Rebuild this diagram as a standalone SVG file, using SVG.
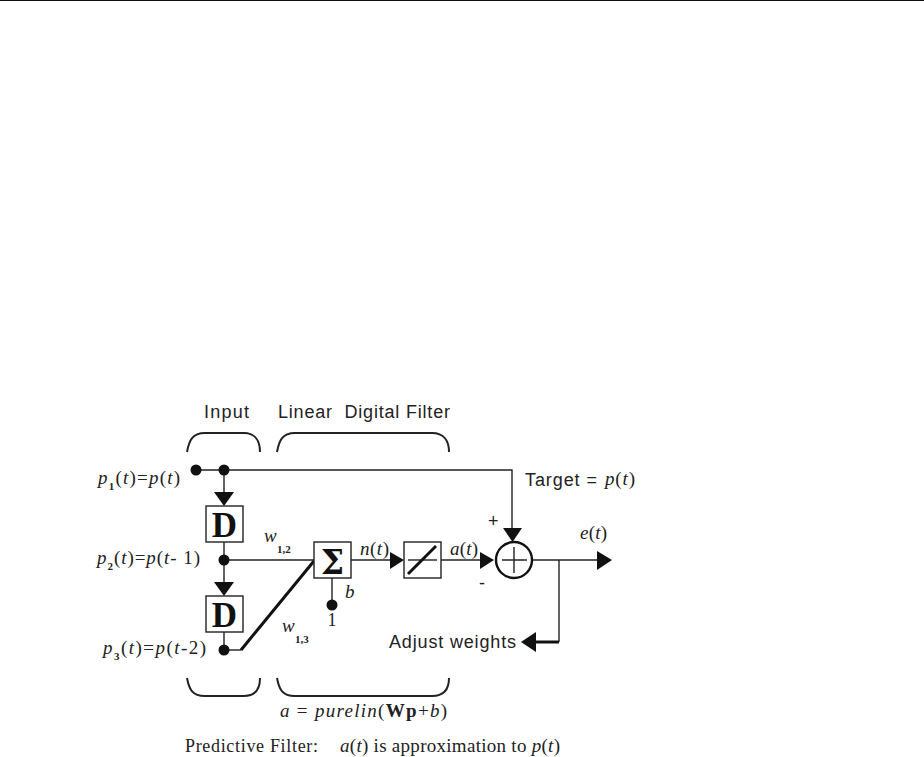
<svg xmlns="http://www.w3.org/2000/svg" width="924" height="757" viewBox="0 0 924 757">
<style>
.l{fill:none;stroke:#222;stroke-width:1.4}
.t{fill:none;stroke:#111;stroke-width:3}
.br{fill:none;stroke:#222;stroke-width:2}
.b{fill:#fff;stroke:#222;stroke-width:1.4}
.a{fill:#111;stroke:none}
.s{font-family:"Liberation Sans",Arial,sans-serif;font-size:18px;fill:#222}
.i{font-family:"Liberation Serif","Times New Roman",serif;font-size:19px;font-style:italic;fill:#222}
.n{font-style:normal}
.r{font-family:"Liberation Serif","Times New Roman",serif;font-size:18px;fill:#222}
.sub{font-family:"Liberation Serif","Times New Roman",serif;font-size:11px;font-style:normal;font-weight:bold;fill:#222}
.big{font-family:"Liberation Serif",serif;font-weight:bold;fill:#111;text-anchor:middle}
</style>
<rect width="924" height="757" fill="#fff"/>
<rect id="top-rule" x="0" y="0" width="924" height="1" fill="#111"/>
<g id="connectors">
<path class="l" d="M196 470H512V530"/>
<path class="l" d="M224 470V494"/>
<path class="l" d="M224 542V584"/>
<path class="l" d="M224 632V650"/>
<path class="l" d="M224 560H314"/>
<path class="l" d="M224 650H241"/>
<path class="t" d="M241 650L314 561"/>
<path class="l" d="M332 578V605"/>
<path class="l" d="M351 560H392"/>
<path class="l" d="M441 560H482"/>
<path class="l" d="M532 560H600"/>
<path class="l" d="M559 560V642"/>
<path class="t" d="M559 642H530"/>
<polygon class="a" points="214,492 234,492 224,506"/>
<polygon class="a" points="214,582 234,582 224,596"/>
<polygon class="a" points="503,528 522,528 512.500,542"/>
<polygon class="a" points="390,552 404,560 390,569"/>
<polygon class="a" points="480,552 494,560 480,569"/>
<polygon class="a" points="597,551 612,560 597,570"/>
<polygon class="a" points="536,632 521,642 536,652"/>
</g>
<g id="dot-p1"><circle class="a" cx="196" cy="470" r="5.500"/></g>
<g id="dot-branch"><circle class="a" cx="224" cy="470" r="5.500"/></g>
<g id="dot-p2"><circle class="a" cx="224" cy="560" r="5.500"/></g>
<g id="dot-p3"><circle class="a" cx="224" cy="650" r="5.500"/></g>
<g id="dot-bias"><circle class="a" cx="332" cy="605" r="5.500"/></g>
<g id="delay-1"><rect class="b" x="206" y="506" width="37" height="36"/><text class="big" x="224.500" y="537" style="font-size:35px">D</text></g>
<g id="delay-2"><rect class="b" x="206" y="596" width="37" height="36"/><text class="big" x="224.500" y="627" style="font-size:35px">D</text></g>
<g id="sum"><rect class="b" x="314" y="542" width="37" height="36"/><text x="332.500" y="574" text-anchor="middle" style="font-family:'DejaVu Serif',serif;font-weight:bold;font-size:33px;fill:#111">Σ</text></g>
<g id="purelin"><rect class="b" x="404" y="542" width="37" height="36"/><path class="l" d="M408 560H437"/><path class="t" d="M408 574L436 546"/></g>
<g id="subtract"><circle cx="514" cy="560" r="18" fill="#fff" stroke="#111" stroke-width="2.400"/><path class="l" d="M514 547V573M502 560H527"/></g>
<g id="braces">
<path class="br" d="M187 452C189 441 192 433 205 433H244C255 433 260 441 260 452"/>
<path class="br" d="M277 452C279 441 282 433 295 433H432C444 433 449 441 449 452"/>
<path class="br" d="M187 678C189 689 192 696 205 696H244C255 696 260 689 260 678"/>
<path class="br" d="M277 678C279 689 282 696 295 696H432C444 696 449 689 449 678"/>
</g>
<g id="labels">
<text class="s" x="204" y="418" textLength="45">Input</text>
<text class="s" x="278" y="418" textLength="172" xml:space="preserve">Linear  Digital Filter</text>
<text class="i" x="98" y="484" textLength="82">p<tspan class="sub" dy="6">1</tspan><tspan class="n" dy="-6">(</tspan>t<tspan class="n">)=</tspan>p<tspan class="n">(</tspan>t<tspan class="n">)</tspan></text>
<text class="i" x="97" y="564" textLength="103">p<tspan class="sub" dy="6">2</tspan><tspan class="n" dy="-6">(</tspan>t<tspan class="n">)=</tspan>p<tspan class="n">(</tspan>t<tspan class="n">- 1)</tspan></text>
<text class="i" x="103" y="654" textLength="103">p<tspan class="sub" dy="6">3</tspan><tspan class="n" dy="-6">(</tspan>t<tspan class="n">)=</tspan>p<tspan class="n">(</tspan>t<tspan class="n">-2)</tspan></text>
<text class="i" x="264" y="542" style="font-size:19px">w</text><text class="sub" x="277" y="553">1,2</text>
<text class="i" x="282" y="632" style="font-size:19px">w</text><text class="sub" x="295" y="643">1,3</text>
<text class="i" x="345" y="598">b</text>
<text class="r" x="332" y="626" text-anchor="middle">1</text>
<text class="i" x="360" y="555" textLength="29">n<tspan class="n">(</tspan>t<tspan class="n">)</tspan></text>
<text class="i" x="450" y="555" textLength="28">a<tspan class="n">(</tspan>t<tspan class="n">)</tspan></text>
<text class="i" x="580" y="539" textLength="27">e<tspan class="n">(</tspan>t<tspan class="n">)</tspan></text>
<text class="s" x="488" y="527">+</text>
<text class="s" x="479" y="589">-</text>
<text class="s" x="525" y="486" textLength="72">Target =</text>
<text class="i" x="605" y="485" textLength="30">p<tspan class="n">(</tspan>t<tspan class="n">)</tspan></text>
<text class="s" x="389" y="648" textLength="127">Adjust weights</text>
<text class="i" x="280" y="717" textLength="167">a <tspan class="n">=</tspan> purelin<tspan class="n">(</tspan><tspan class="n" font-weight="bold">Wp</tspan><tspan class="n">+</tspan>b<tspan class="n">)</tspan></text>
<text class="r" x="185" y="752" textLength="133">Predictive Filter:</text>
<text class="i" x="340" y="752" textLength="220">a<tspan class="n">(</tspan>t<tspan class="n">) is approximation to </tspan>p<tspan class="n">(</tspan>t<tspan class="n">)</tspan></text>
</g>
</svg>
